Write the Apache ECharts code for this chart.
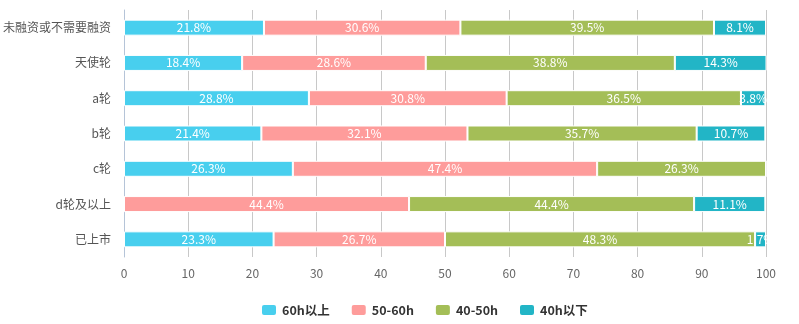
<!DOCTYPE html>
<html><head><meta charset="utf-8">
<script src="https://cdn.jsdelivr.net/npm/echarts@6/dist/echarts.min.js"></script>
<style>html,body{margin:0;padding:0;background:#fff}#c{width:799px;height:324px}</style>
</head><body><div id="c"></div>
<script>
const categories = ['未融资或不需要融资','天使轮','a轮','b轮','c轮','d轮及以上','已上市'];
const seriesNames = ['60h以上','50-60h','40-50h','40h以下'];
const s60up = [21.8, 18.4, 28.8, 21.4, 26.3, 0, 23.3];
const s50_60 = [30.6, 28.6, 30.8, 32.1, 47.4, 44.4, 26.7];
const s40_50 = [39.5, 38.8, 36.5, 35.7, 26.3, 44.4, 48.3];
const s40down = [8.1, 14.3, 3.8, 10.7, 0, 11.1, 1.7];
const xTicks = [0, 10, 20, 30, 40, 50, 60, 70, 80, 90, 100];
const colors = ['#48cfee', '#fe9c9b', '#a4be57', '#22b5c6'];
const font = '"Noto Sans CJK SC", "Noto Sans", sans-serif';
const chart = echarts.init(document.getElementById('c'));
const mk = (name, data) => ({
  name, type: 'bar', stack: 'total', data, barWidth: 16,
  itemStyle: { borderColor: '#fff', borderWidth: 1 },
  label: { show: true, position: 'inside', color: '#fff', fontSize: 12, fontFamily: font,
    formatter: p => p.value > 0 ? p.value + '%' : '' }
});
chart.setOption({
  color: colors,
  animation: false,
  grid: { left: 124, right: 33, top: 10, bottom: 67 },
  legend: {
    left: 255, bottom: 2, itemWidth: 16, itemHeight: 12, itemGap: 20,
    textStyle: { fontWeight: 'bold', fontSize: 12.5, color: '#333', fontFamily: font },
    data: seriesNames
  },
  xAxis: {
    type: 'value', min: xTicks[0], max: xTicks[xTicks.length - 1], interval: 10,
    axisLine: { show: false }, axisTick: { show: false },
    axisLabel: { color: '#666', fontSize: 12, fontFamily: font, margin: 10 },
    splitLine: { lineStyle: { color: '#c8c8c8' } }
  },
  yAxis: {
    type: 'category', data: categories, inverse: true,
    axisLine: { lineStyle: { color: '#b5c4d8' } },
    axisTick: { lineStyle: { color: '#b5c4d8' }, length: 5 },
    axisLabel: { color: '#555', fontSize: 12, fontFamily: font, margin: 13 }
  },
  series: [mk(seriesNames[0], s60up), mk(seriesNames[1], s50_60), mk(seriesNames[2], s40_50), mk(seriesNames[3], s40down)]
});
</script></body></html>
